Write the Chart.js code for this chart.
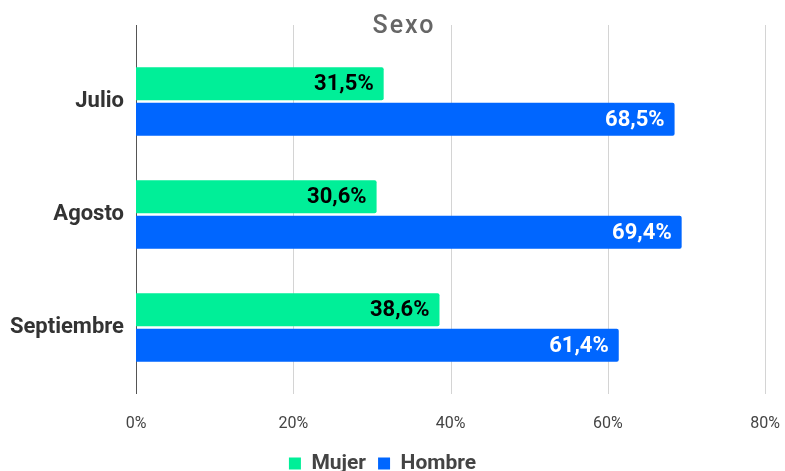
<!DOCTYPE html>
<html>
<head>
<meta charset="utf-8">
<script src="https://cdn.jsdelivr.net/npm/chart.js@4"></script>
<style>
  body { margin: 0; background: #fff; }
  #wrap { width: 785px; height: 471px; }
</style>
</head>
<body>
<div id="wrap"><canvas id="myChart"></canvas></div>
<script>
const meses = ['Julio', 'Agosto', 'Septiembre'];
const mujer = [31.5, 30.6, 38.6];
const hombre = [68.5, 69.4, 61.4];
const ticksX = [0, 20, 40, 60, 80];
const titulo = 'Sexo';

// grid lines drawn a bit taller than the chart area, like the original
const gridPlugin = {
  id: 'gridLargo',
  beforeDatasetsDraw(chart) {
    const ctx = chart.ctx;
    const x = chart.scales.x;
    const area = chart.chartArea;
    ctx.save();
    ticksX.forEach(v => {
      const px = Math.round(x.getPixelForValue(v)) + 0.5;
      ctx.strokeStyle = v == 0 ? '#555' : '#d4d4d4';
      ctx.lineWidth = 1;
      ctx.beginPath();
      ctx.moveTo(px, area.top - 20);
      ctx.lineTo(px, area.bottom + 10);
      ctx.stroke();
    });
    ctx.restore();
  }
};

// title a little right of centre, like the original
const tituloPlugin = {
  id: 'titulo',
  afterDraw(chart) {
    const ctx = chart.ctx;
    ctx.save();
    ctx.font = '500 25px Roboto';
    ctx.letterSpacing = '2px';
    ctx.fillStyle = '#666';
    ctx.textAlign = 'center';
    ctx.textBaseline = 'middle';
    ctx.fillText(titulo, 404, 27);
    ctx.restore();
  }
};

// value labels inside the end of each bar
const etiquetas = {
  id: 'etiquetas',
  afterDatasetsDraw(chart) {
    const ctx = chart.ctx;
    ctx.save();
    ctx.font = 'bold 22px Roboto';
    ctx.textAlign = 'right';
    ctx.textBaseline = 'middle';
    chart.data.datasets.forEach((ds, i) => {
      chart.getDatasetMeta(i).data.forEach((bar, j) => {
        ctx.fillStyle = i == 0 ? '#000' : '#fff';
        const txt = ds.data[j].toFixed(1).replace('.', ',') + '%';
        ctx.fillText(txt, bar.x - 10, bar.y + 1);
      });
    });
    ctx.restore();
  }
};

new Chart(document.getElementById('myChart'), {
  type: 'bar',
  data: {
    labels: meses,
    datasets: [{
      label: 'Mujer',
      data: mujer,
      backgroundColor: '#00ef98',
      borderRadius: 2,
      borderSkipped: 'start',
      categoryPercentage: 0.63,
      barPercentage: 0.93
    },
    {
      label: 'Hombre',
      data: hombre,
      backgroundColor: '#0066ff',
      borderRadius: 2,
      borderSkipped: 'start',
      categoryPercentage: 0.63,
      barPercentage: 0.93
    }]
  },
  options: {
    indexAxis: 'y',
    responsive: true,
    maintainAspectRatio: false,
    animation: false,
    layout: { padding: { left: 0, right: 20, top: 45, bottom: -13 } },
    plugins: {
      title: { display: false },
      legend: {
        position: 'bottom',
        labels: {
          color: '#444',
          font: { family: 'Roboto', size: 21, weight: 'bold' },
          boxWidth: 12,
          boxHeight: 12,
          padding: 12
        }
      },
      tooltip: { enabled: false }
    },
    scales: {
      x: {
        min: 0,
        max: 80,
        ticks: {
          stepSize: 20,
          color: '#444',
          font: { family: 'Roboto', size: 16 },
          padding: 4,
          callback: v => v + '%'
        },
        grid: { display: false, tickLength: 26 },
        border: { display: false },
        afterFit: s => { s.height = 57; }
      },
      y: {
        ticks: {
          color: '#333',
          font: { family: 'Roboto', size: 22, weight: 'bold' },
          padding: 4
        },
        grid: { display: false },
        border: { display: false },
        afterFit: s => { s.width = 136; }
      }
    }
  },
  plugins: [gridPlugin, etiquetas, tituloPlugin]
});
</script>
</body>
</html>
